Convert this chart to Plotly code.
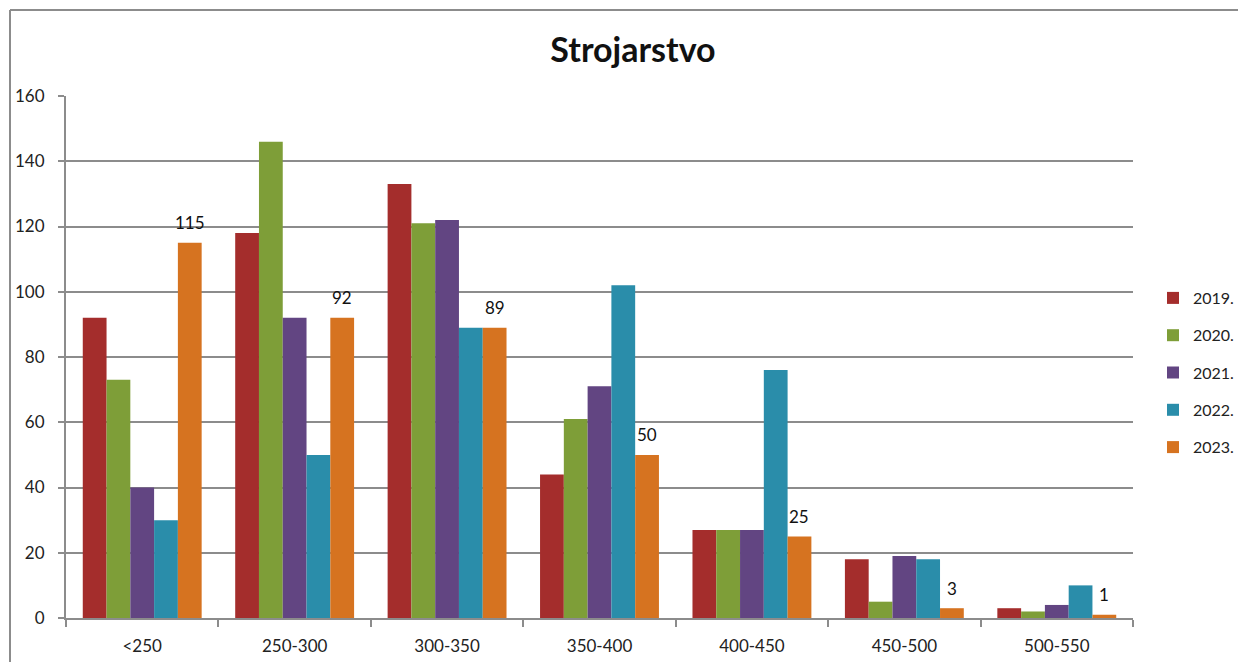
import plotly.graph_objects as go

categories = ["<250", "250-300", "300-350", "350-400", "400-450", "450-500", "500-550"]
years = ["2019.", "2020.", "2021.", "2022.", "2023."]
v2019 = [92, 118, 133, 44, 27, 18, 3]
v2020 = [73, 146, 121, 61, 27, 5, 2]
v2021 = [40, 92, 122, 71, 27, 19, 4]
v2022 = [30, 50, 89, 102, 76, 18, 10]
v2023 = [115, 92, 89, 50, 25, 3, 1]
series = [v2019, v2020, v2021, v2022, v2023]
colors = ["#A42D2C", "#7E9E38", "#624582", "#2A8DAA", "#D67320"]
labelled = [False, False, False, False, True]

FONT = "Lato, 'Open Sans', sans-serif"
BARGAP = 0.22

fig = go.Figure()
for name, vals, col in zip(years, series, colors):
    fig.add_trace(go.Bar(
        x=categories, y=vals, name=name, legendgroup=name,
        marker=dict(color=col, line=dict(width=0)),
    ))

# data labels for the labelled series, placed above their bars
n = len(series)
for k, (vals, lab) in enumerate(zip(series, labelled)):
    if not lab:
        continue
    off = (k - (n - 1) / 2) * (1 - BARGAP) / n
    for i, v in enumerate(vals):
        fig.add_annotation(x=i + off, y=v, xref="x", yref="y", text=str(v),
                           showarrow=False, yshift=20, yanchor="middle",
                           font=dict(size=17, color="#111", family=FONT))

# page has an 8px body margin
OFF = 8
W, H = 1246 - OFF, 662 - OFF
L, T = 66 - OFF, 96 - OFF
PR, PB = 1133 - OFF, 618 - OFF
R, B = W - PR, H - PB
pw, ph = PR - L, PB - T

def px(p):  # page x pixel -> paper
    return (p - OFF - L) / pw

def py(p):  # page y pixel -> paper
    return (PB - (p - OFF)) / ph

fig.update_layout(
    width=W, height=H,
    margin=dict(l=L, r=R, t=T, b=B, autoexpand=False),
    paper_bgcolor="white", plot_bgcolor="white",
    barmode="group", bargap=BARGAP, bargroupgap=0,
    font=dict(family=FONT, size=17, color="#222"),
    title=dict(text="<b>Strojarstvo</b>", x=(633 - OFF) / W, xanchor="center", xref="container",
               y=1 - (50 - OFF) / H, yanchor="middle", yref="container",
               font=dict(size=34, family=FONT, color="#111")),
    legend=dict(x=(1153 - OFF) / W, xref="container", y=1 - (281 - OFF) / H, yref="container",
                xanchor="left", yanchor="top",
                font=dict(size=16, family=FONT, color="#222"),
                tracegroupgap=13.5, itemwidth=30, bgcolor="rgba(0,0,0,0)"),
    showlegend=True,
)
fig.update_xaxes(
    automargin=False,
    showline=True, linecolor="#8c8c8c", linewidth=2,
    ticks="outside", tickson="boundaries", ticklen=7, tickcolor="#8c8c8c", tickwidth=2,
    tickfont=dict(size=17, family=FONT, color="#222"),
    ticklabelstandoff=12,
    showgrid=False, fixedrange=True,
)
fig.update_yaxes(
    automargin=False,
    range=[0, 160], dtick=20, tick0=0,
    showline=True, linecolor="#8c8c8c", linewidth=2,
    ticks="outside", ticklen=6, tickcolor="#8c8c8c", tickwidth=2,
    showgrid=True, gridcolor="#8c8c8c", gridwidth=1.5,
    tickfont=dict(size=17, family=FONT, color="#222"),
    ticklabelstandoff=10,
    zeroline=False, fixedrange=True,
)

# outer chart border (top and left edges visible)
fig.add_shape(type="line", xref="paper", yref="paper",
              x0=px(10), x1=px(1300), y0=py(10), y1=py(10),
              line=dict(color="#8c8c8c", width=2))
fig.add_shape(type="line", xref="paper", yref="paper",
              x0=px(10), x1=px(10), y0=py(10), y1=py(700),
              line=dict(color="#8c8c8c", width=2))

fig.write_html("out.html")
